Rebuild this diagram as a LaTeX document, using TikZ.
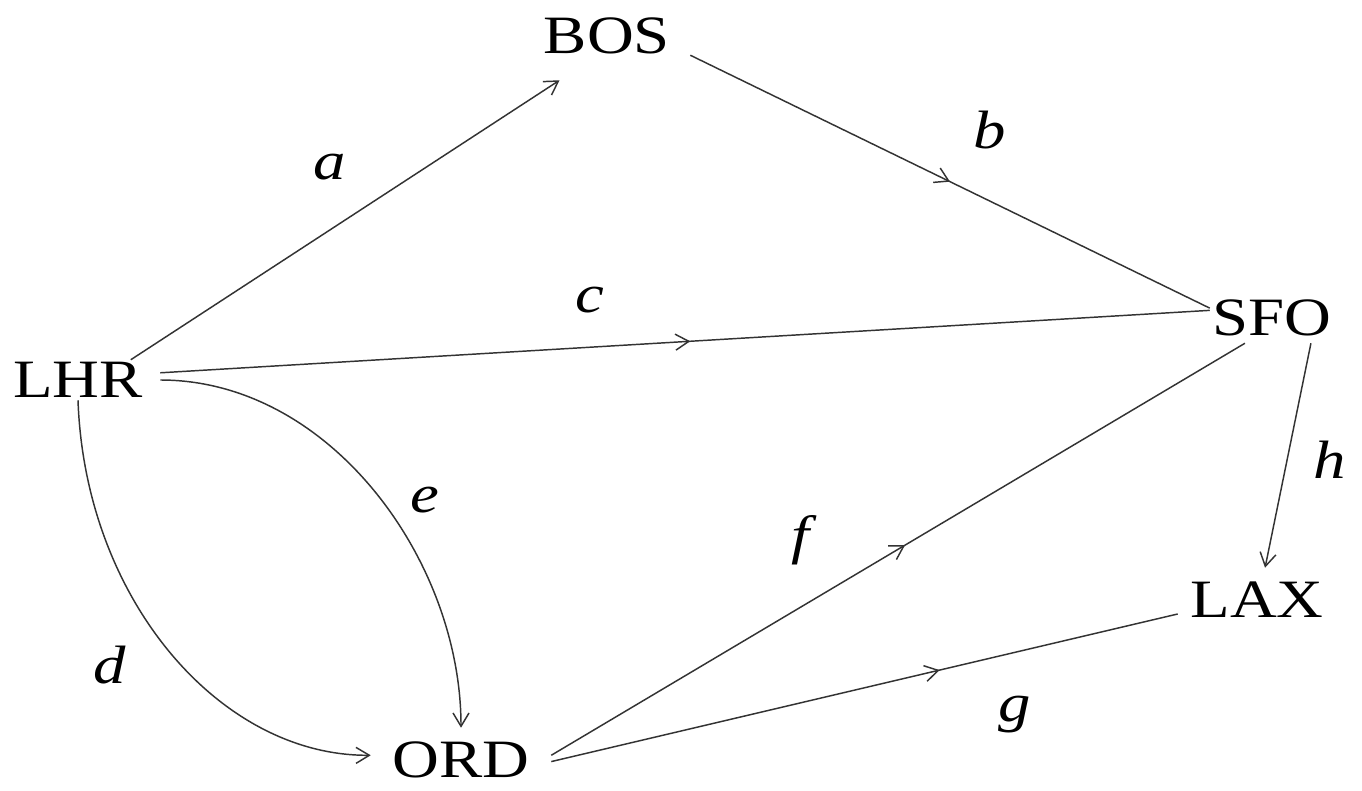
\documentclass[tikz,border=0pt]{standalone}
\usepackage{fontspec}
\setmainfont{Liberation Serif}
\usetikzlibrary{arrows.meta,decorations.markings}
\newcommand{\wtxt}[1]{\scalebox{1.2}[1]{#1}}
\begin{document}
\begin{tikzpicture}[x=0.75pt,y=-0.75pt,
  airport/.style={rectangle,inner sep=0pt,font=\fontsize{40.5}{44}\selectfont},
  elabel/.style={inner sep=0pt,font=\fontsize{40.5}{44}\selectfont\itshape},
  edge/.style={line width=1.1pt,draw=black!80},
  tip/.style={-{Straight Barb[length=10pt,width=12pt,line width=1.1pt]}},
  midarrow/.style={postaction={decorate},decoration={markings,
     mark=at position #1 with {\arrow{Straight Barb[length=10pt,width=12pt,line width=1.1pt]}}}}
]
\useasboundingbox (0,0) rectangle (1362,791);
\fill[white] (0,0) rectangle (1362,791);

\node[airport,minimum width=123pt,minimum height=30pt] (LHR) at (78,380) {\wtxt{LHR}};
\node[airport,minimum width=124.5pt,minimum height=66pt] (BOS) at (607,36) {\wtxt{BOS}};
\node[airport,minimum width=93pt,minimum height=37.5pt] (SFO) at (1272,318) {\wtxt{SFO}};
\node[airport,minimum width=118.5pt,minimum height=48pt] (LAX) at (1257,600) {\wtxt{LAX}};
\node[airport,minimum width=135pt,minimum height=36pt] (ORD) at (461,760) {\wtxt{ORD}};

% edges
\draw[edge,tip] (LHR.21) -- (BOS.-137);
\draw[edge,midarrow=0.5] (BOS.-13) -- (SFO.171);
\draw[edge,midarrow=0.505] (LHR.5) -- (SFO.173);
\draw[edge,tip] (LHR.south) .. controls +(7,200) and +(-150,1) .. (ORD.177);
\draw[edge,tip,shorten >=6pt] (LHR.0) .. controls +(170,0) and +(0,-175) .. (ORD.90);
\draw[edge,midarrow=0.51] (ORD.3) -- (SFO.-137);
\draw[edge,midarrow=0.62] (ORD.-1) -- (LAX.-170);
\draw[edge,tip] (SFO.-33) -- (LAX.76);

% labels
\node[elabel] (la) at (330,167) {\wtxt{a}};
\node[elabel] (lb) at (990,130) {\wtxt{b}};
\node[elabel] (lc) at (590,300) {\wtxt{c}};
\node[elabel] (ld) at (110,665) {\wtxt{d}};
\node[elabel] (le) at (425,500) {\wtxt{e}};
\node[elabel] (lf) at (800,540) {\wtxt{f}};
\node[elabel] (lg) at (1015,715) {\wtxt{g}};
\node[elabel] (lh) at (1330,460) {\wtxt{h}};
\end{tikzpicture}
\end{document}
